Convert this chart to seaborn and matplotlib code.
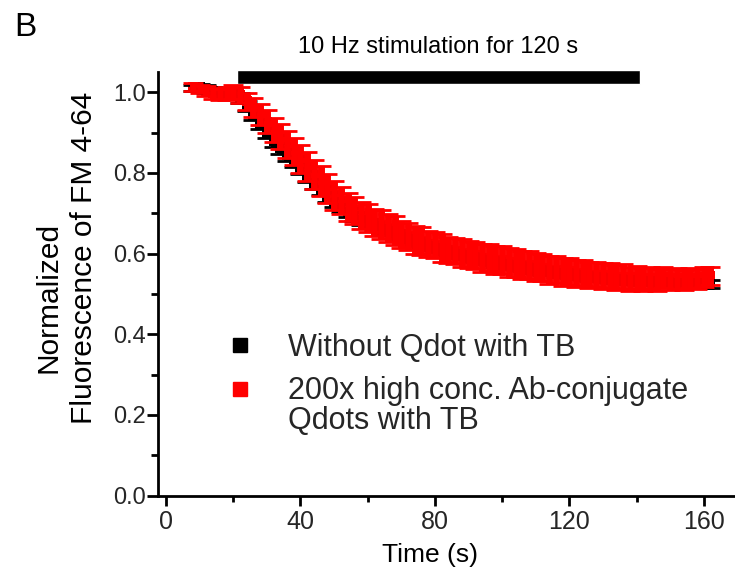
import pandas as pd
import matplotlib
matplotlib.use("Agg")
import matplotlib.pyplot as plt
from matplotlib.lines import Line2D
from matplotlib.ticker import MultipleLocator
import seaborn as sns

# time points (s), one frame every 2 s
time_s = list(range(8, 163, 2))

# Without Qdot with TB
ctrl_mean = [1.010, 1.012, 1.008, 1.004, 1.001, 0.999, 0.995, 0.986, 0.966, 0.943,
             0.921, 0.899, 0.879, 0.861, 0.844, 0.828, 0.810, 0.791, 0.772, 0.756,
             0.741, 0.727, 0.713, 0.701, 0.691, 0.682, 0.675, 0.668, 0.661, 0.655,
             0.648, 0.641, 0.635, 0.629, 0.623, 0.618, 0.613, 0.608, 0.603, 0.600,
             0.596, 0.592, 0.588, 0.585, 0.581, 0.578, 0.575, 0.572, 0.569, 0.566,
             0.563, 0.560, 0.558, 0.556, 0.553, 0.551, 0.549, 0.547, 0.545, 0.543,
             0.541, 0.540, 0.538, 0.537, 0.535, 0.534, 0.533, 0.532, 0.531, 0.530,
             0.529, 0.528, 0.528, 0.527, 0.526, 0.526, 0.525, 0.524]
ctrl_err = [0.008, 0.009, 0.009, 0.010, 0.010, 0.011, 0.011, 0.012, 0.012, 0.013,
            0.013, 0.013, 0.014, 0.014, 0.014, 0.013, 0.013, 0.013, 0.012, 0.012,
            0.012, 0.012, 0.011, 0.011, 0.011, 0.011, 0.011, 0.011, 0.010, 0.010,
            0.010, 0.010, 0.010, 0.010, 0.010, 0.010, 0.010, 0.010, 0.010, 0.010,
            0.010, 0.010, 0.010, 0.010, 0.010, 0.010, 0.010, 0.010, 0.010, 0.010,
            0.010, 0.010, 0.010, 0.010, 0.010, 0.010, 0.010, 0.010, 0.010, 0.010,
            0.010, 0.010, 0.010, 0.010, 0.010, 0.010, 0.010, 0.010, 0.010, 0.010,
            0.010, 0.010, 0.010, 0.010, 0.010, 0.010, 0.010, 0.010]

# 200x high conc. Ab-conjugate Qdots with TB
qdot_mean = [1.012, 1.008, 1.003, 0.997, 0.994, 0.996, 1.001, 0.993, 0.978, 0.962,
             0.944, 0.927, 0.906, 0.889, 0.871, 0.853, 0.834, 0.817, 0.796, 0.779,
             0.762, 0.744, 0.731, 0.716, 0.707, 0.694, 0.688, 0.677, 0.672, 0.663,
             0.657, 0.648, 0.643, 0.634, 0.631, 0.624, 0.621, 0.614, 0.609, 0.606,
             0.601, 0.598, 0.596, 0.589, 0.590, 0.584, 0.585, 0.578, 0.576, 0.571,
             0.572, 0.566, 0.565, 0.559, 0.560, 0.554, 0.556, 0.550, 0.552, 0.547,
             0.548, 0.544, 0.546, 0.541, 0.543, 0.538, 0.541, 0.536, 0.540, 0.535,
             0.541, 0.536, 0.539, 0.534, 0.540, 0.537, 0.542, 0.544]
qdot_err = [0.010, 0.011, 0.012, 0.013, 0.014, 0.016, 0.017, 0.019, 0.021, 0.024,
            0.026, 0.028, 0.030, 0.031, 0.033, 0.034, 0.035, 0.036, 0.037, 0.037,
            0.036, 0.035, 0.034, 0.034, 0.033, 0.033, 0.034, 0.034, 0.035, 0.035,
            0.035, 0.034, 0.034, 0.035, 0.034, 0.033, 0.033, 0.034, 0.033, 0.033,
            0.034, 0.033, 0.033, 0.034, 0.034, 0.035, 0.035, 0.036, 0.035, 0.035,
            0.034, 0.035, 0.034, 0.034, 0.033, 0.034, 0.033, 0.034, 0.033, 0.033,
            0.032, 0.032, 0.031, 0.031, 0.030, 0.030, 0.029, 0.029, 0.028, 0.028,
            0.027, 0.026, 0.026, 0.025, 0.025, 0.024, 0.024, 0.023]

series_labels = ["Without Qdot with TB", "200x high conc. Ab-conjugate\nQdots with TB"]
series_colors = ["#000000", "#ff0000"]

stim_start = 21
stim_length = 120
stim_label = "10 Hz stimulation for 120 s"

sns.set_theme(style="ticks")
plt.rcParams['font.family'] = ['Liberation Sans', 'DejaVu Sans']

df = pd.DataFrame({
    'time': time_s * 2,
    'value': ctrl_mean + qdot_mean,
    'err': ctrl_err + qdot_err,
    'group': [series_labels[0]] * len(time_s) + [series_labels[1]] * len(time_s),
})

fig = plt.figure(figsize=(7.35, 5.77), dpi=100)
ax = fig.add_axes([0.2154, 0.1409, 0.7846, 0.7343])

for lab, col in zip(series_labels, series_colors):
    sub = df[df['group'] == lab]
    ax.errorbar(sub['time'], sub['value'], yerr=sub['err'], fmt='none',
                ecolor=col, elinewidth=5, capsize=7, capthick=2)
    sns.scatterplot(data=sub, x='time', y='value', color=col, marker='s',
                    s=50, linewidth=0, legend=False, ax=ax)

# stimulation bar above the traces
ax.barh(y=1.038, width=stim_length, left=stim_start, height=0.034,
        color='black', clip_on=False)
ax.text(stim_start + stim_length / 2, 1.112, stim_label, ha='center', va='center',
        fontsize=17, color='black', clip_on=False)

ax.set_xlim(-2.3, 169.3)
ax.set_ylim(0, 1.05)
ax.xaxis.set_major_locator(MultipleLocator(40))
ax.xaxis.set_minor_locator(MultipleLocator(20))
ax.yaxis.set_minor_locator(MultipleLocator(0.1))
ax.set_yticks([0.0, 0.2, 0.4, 0.6, 0.8, 1.0])

sns.despine(ax=ax)
for side in ['left', 'bottom']:
    ax.spines[side].set_linewidth(2)
    ax.spines[side].set_color('black')
ax.tick_params(axis='both', which='both', direction='out', color='black', width=2)
ax.tick_params(axis='x', which='major', length=7, pad=3, labelsize=18)
ax.tick_params(axis='x', which='minor', length=4)
ax.tick_params(axis='y', which='major', length=8, pad=1, labelsize=17)
ax.tick_params(axis='y', which='minor', length=5)

ax.set_xlabel("Time (s)", fontsize=19, color='black')
ax.xaxis.set_label_coords(0.471, -0.112)
ax.set_ylabel("")
fig.text(0.0762, 0.4853, "Normalized", rotation=90, rotation_mode='anchor',
         ha='center', va='baseline', fontsize=21.5, color='black')
fig.text(0.1245, 0.5529, "Fluorescence of FM 4-64", rotation=90, rotation_mode='anchor',
         ha='center', va='baseline', fontsize=21.5, color='black')

fig.text(0.034, 0.953, "B", ha='center', va='center', fontsize=24, color='black')

handles = [Line2D([], [], marker='s', ls='none', color=c, markersize=10.5) for c in series_colors]
leg = ax.legend(handles, series_labels, loc='upper left', bbox_to_anchor=(0.3122, 0.4233),
                bbox_transform=fig.transFigure, frameon=False, fontsize=22,
                borderpad=0, borderaxespad=0, handlelength=0.7, handleheight=1.1,
                handletextpad=1.23, labelspacing=0.44)
leg.get_texts()[1].set_linespacing(1.0)
# put the red square next to the first line of its two-line label
for item in leg._legend_handle_box.get_children()[0].get_children():
    item.align = 'top'

fig.savefig("out.png", dpi=100)
